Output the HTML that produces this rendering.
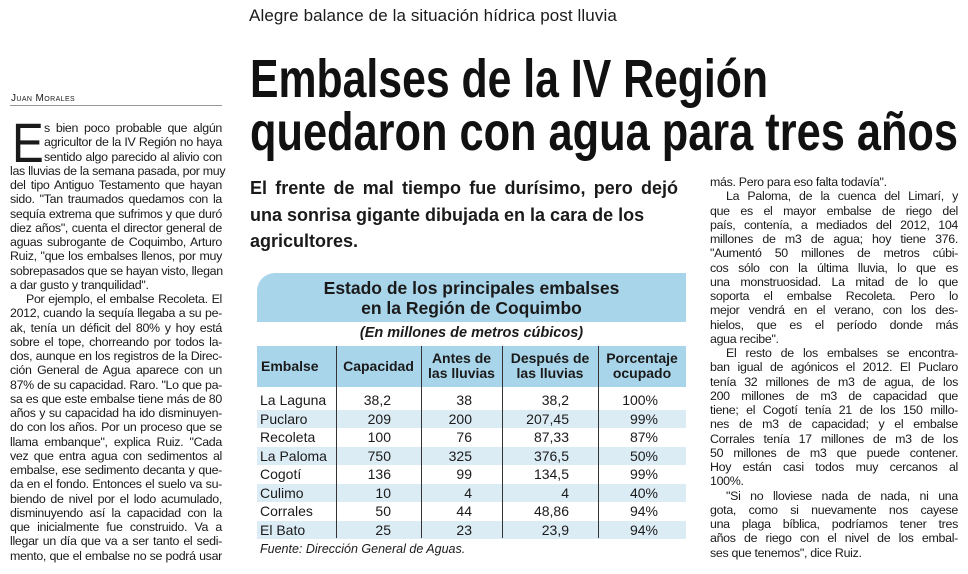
<!DOCTYPE html>
<html><head><meta charset="utf-8">
<style>
body{margin:0;width:968px;height:574px;background:#fff;overflow:hidden;position:relative;font-family:"Liberation Sans",sans-serif;color:#1a1a1a}
.abs{position:absolute}
.col{position:absolute;font-size:12.4px;letter-spacing:-0.3px}
.col div{height:14.25px;line-height:14.25px;text-align:justify;text-align-last:justify;white-space:nowrap}
.col div.l{text-align-last:left}
.col div.i{text-indent:16px}
#tbl{position:absolute;left:257px;top:273px;width:429px}
.row{position:absolute;left:0;width:429px;height:18.5px;font-size:14px;line-height:18.5px}
.cell{position:absolute;top:0}
</style></head><body>
<div class="abs" style="left:249px;top:6px;font-size:17px;letter-spacing:0.1px">Alegre balance de la situación hídrica post lluvia</div>
<svg class="abs" style="left:0;top:0" width="968" height="170">
<text x="250" y="97" font-family="Liberation Sans" font-weight="bold" font-size="54" textLength="518" lengthAdjust="spacingAndGlyphs" fill="#111">Embalses de la IV Región</text>
<text x="250" y="150" font-family="Liberation Sans" font-weight="bold" font-size="54" textLength="708" lengthAdjust="spacingAndGlyphs" fill="#111">quedaron con agua para tres años</text>
</svg>
<div class="abs" style="left:250px;top:175px;font-size:18px;font-weight:bold;line-height:26.5px;width:440px">
<div style="width:428px;text-align:justify;text-align-last:justify;white-space:nowrap">El frente de mal tiempo fue durísimo, pero dejó</div>
<div style="white-space:nowrap">una sonrisa gigante dibujada en la cara de los</div>
<div>agricultores.</div></div>

<div class="abs" style="left:11px;top:93px;font-size:10px;letter-spacing:0.4px;font-variant:small-caps">Juan Morales</div>
<div class="abs" style="left:10px;top:105px;width:212px;height:1px;background:#999"></div>
<div class="abs" style="left:12px;top:115px;font-size:56px;line-height:56px;font-family:'Liberation Sans';transform:scaleX(0.85);transform-origin:left">E</div>

<div class="col" style="left:10px;top:121px;width:212px">
<div style="margin-left:34px">s bien poco probable que algún</div>
<div style="margin-left:34px">agricultor de la IV Región no haya</div>
<div style="margin-left:34px">sentido algo parecido al alivio con</div>
<div>las lluvias de la semana pasada, por muy</div>
<div>del tipo Antiguo Testamento que hayan</div>
<div>sido. "Tan traumados quedamos con la</div>
<div>sequía extrema que sufrimos y que duró</div>
<div>diez años", cuenta el director general de</div>
<div>aguas subrogante de Coquimbo, Arturo</div>
<div>Ruiz, "que los embalses llenos, por muy</div>
<div>sobrepasados que se hayan visto, llegan</div>
<div class="l">a dar gusto y tranquilidad".</div>
<div class="i">Por ejemplo, el embalse Recoleta. El</div>
<div>2012, cuando la sequía llegaba a su pe-</div>
<div>ak, tenía un déficit del 80% y hoy está</div>
<div>sobre el tope, chorreando por todos la-</div>
<div>dos, aunque en los registros de la Direc-</div>
<div>ción General de Agua aparece con un</div>
<div>87% de su capacidad. Raro. "Lo que pa-</div>
<div>sa es que este embalse tiene más de 80</div>
<div>años y su capacidad ha ido disminuyen-</div>
<div>do con los años. Por un proceso que se</div>
<div>llama embanque", explica Ruiz. "Cada</div>
<div>vez que entra agua con sedimentos al</div>
<div>embalse, ese sedimento decanta y que-</div>
<div>da en el fondo. Entonces el suelo va su-</div>
<div>biendo de nivel por el lodo acumulado,</div>
<div>disminuyendo así la capacidad con la</div>
<div>que inicialmente fue construido. Va a</div>
<div>llegar un día que va a ser tanto el sedi-</div>
<div>mento, que el embalse no se podrá usar</div>
</div>

<div class="col" style="left:710px;top:175px;width:248px">
<div class="l">más. Pero para eso falta todavía".</div>
<div class="i">La Paloma, de la cuenca del Limarí, y</div>
<div>que es el mayor embalse de riego del</div>
<div>país, contenía, a mediados del 2012, 104</div>
<div>millones de m3 de agua; hoy tiene 376.</div>
<div>"Aumentó 50 millones de metros cúbi-</div>
<div>cos sólo con la última lluvia, lo que es</div>
<div>una monstruosidad. La mitad de lo que</div>
<div>soporta el embalse Recoleta. Pero lo</div>
<div>mejor vendrá en el verano, con los des-</div>
<div>hielos, que es el período donde más</div>
<div class="l">agua recibe".</div>
<div class="i">El resto de los embalses se encontra-</div>
<div>ban igual de agónicos el 2012. El Puclaro</div>
<div>tenía 32 millones de m3 de agua, de los</div>
<div>200 millones de m3 de capacidad que</div>
<div>tiene; el Cogotí tenía 21 de los 150 millo-</div>
<div>nes de m3 de capacidad; y el embalse</div>
<div>Corrales tenía 17 millones de m3 de los</div>
<div>50 millones de m3 que puede contener.</div>
<div>Hoy están casi todos muy cercanos al</div>
<div class="l">100%.</div>
<div class="i">"Si no lloviese nada de nada, ni una</div>
<div>gota, como si nuevamente nos cayese</div>
<div>una plaga bíblica, podríamos tener tres</div>
<div>años de riego con el nivel de los embal-</div>
<div class="l">ses que tenemos", dice Ruiz.</div>
</div>

<div id="tbl">
<div class="abs" style="left:0;top:0;width:429px;height:49px;background:#a9d5ea;border-top-left-radius:18px;text-align:center;font-weight:bold;font-size:17.5px;line-height:20px;padding-top:5px;box-sizing:border-box;color:#1a1a1a">Estado de los principales embalses<br>en la Región de Coquimbo</div>
<div class="abs" style="left:0;top:52px;width:429px;text-align:center;font-style:italic;font-weight:bold;font-size:14.5px">(En millones de metros cúbicos)</div>
<div class="abs" style="left:0;top:73px;width:429px;height:41px;background:#a9d5ea;font-weight:bold;font-size:14px;line-height:15px">
<div class="abs" style="left:4px;top:13px">Embalse</div>
<div class="abs" style="left:79px;top:0;width:85px;text-align:center;padding-top:13px">Capacidad</div>
<div class="abs" style="left:164px;top:5px;width:81px;text-align:center">Antes de<br>las lluvias</div>
<div class="abs" style="left:245px;top:5px;width:96px;text-align:center">Después de<br>las lluvias</div>
<div class="abs" style="left:341px;top:5px;width:88px;text-align:center">Porcentaje<br>ocupado</div>
</div>
<div id="rows"></div>
<div class="abs" style="left:79px;top:73px;width:1px;height:192px;background:#333"></div>
<div class="abs" style="left:164px;top:73px;width:1px;height:192px;background:#333"></div>
<div class="abs" style="left:245px;top:73px;width:1px;height:192px;background:#333"></div>
<div class="abs" style="left:341px;top:73px;width:1px;height:192px;background:#333"></div>
<div class="abs" style="left:3px;top:269px;font-style:italic;font-size:12.5px">Fuente: Dirección General de Aguas.</div>
</div>

<script>
const names=["La Laguna","Puclaro","Recoleta","La Paloma","Cogotí","Culimo","Corrales","El Bato"];
const capacidad=["38,2","209","100","750","136","10","50","25"];
const antes=["38","200","76","325","99","4","44","23"];
const despues=["38,2","207,45","87,33","376,5","134,5","4","48,86","23,9"];
const porcentaje=["100%","99%","87%","50%","99%","40%","94%","94%"];
const host=document.getElementById('rows');
names.forEach((n,i)=>{
  const r=document.createElement('div');
  r.className='row';
  
  
  r.style.top=(118+i*18.5)+'px';
  if(i%2===1) r.style.background='#dcecf5';
  const cells=[[n,3,'left',0],[capacidad[i],0,'right',134],[antes[i],0,'right',215],[despues[i],0,'right',312],[porcentaje[i],0,'right',401]];
  cells.forEach(c=>{
    const d=document.createElement('div');
    d.className='cell';
    
    
    d.textContent=c[0];
    if(c[2]==='left'){d.style.left=c[1]+'px';}
    else{d.style.left=(c[3]-80)+'px';d.style.width='80px';d.style.textAlign='right';}
    r.appendChild(d);
  });
  host.appendChild(r);
});
</script>
</body></html>
